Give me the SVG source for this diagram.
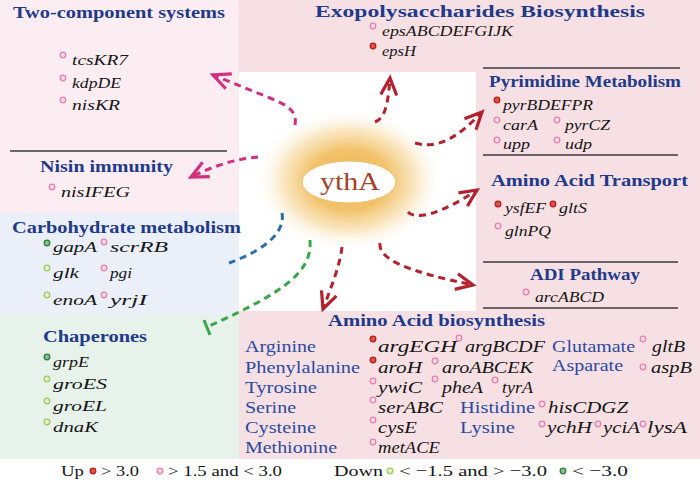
<svg xmlns="http://www.w3.org/2000/svg" width="700" height="483" viewBox="0 0 700 483" font-family="Liberation Serif, Times New Roman, serif">
<defs>
<style>
.t{font-weight:bold;font-size:17px;fill:#1f3a8a}
.g{font-style:italic;font-size:15px;fill:#151515}
.g2{font-style:italic;font-size:16.5px;fill:#151515}
.n{font-size:16.5px;fill:#2b4a9e}
.lg{font-size:15.5px;fill:#151515}
.up{fill:#e45247;stroke:#b41f1a;stroke-width:1.3}
.pk{fill:#fbd6e5;stroke:#e283b0;stroke-width:1.3}
.lgn{fill:#e4f1cc;stroke:#9ccb62;stroke-width:1.3}
.dgn{fill:#86c28f;stroke:#2f7d3f;stroke-width:1.3}
.ln{stroke:#3a3a3a;stroke-width:1.5}
.c{fill:none;stroke-width:3;stroke-dasharray:7 5}
.mg{stroke:#d42f7f}
.rd{stroke:#b3202e}
</style>
<radialGradient id="glow" cx="0.5" cy="0.5" r="0.5">
<stop offset="0" stop-color="#efb452"/>
<stop offset="0.42" stop-color="#f2c26a"/>
<stop offset="0.68" stop-color="#f7dca6" stop-opacity="0.75"/>
<stop offset="1" stop-color="#ffffff" stop-opacity="0"/>
</radialGradient>
<marker id="am" markerWidth="24" markerHeight="24" refX="0" refY="0" viewBox="-19 -12 22 24" orient="auto" markerUnits="userSpaceOnUse">
<path d="M-17,-8 L0,0 L-17,8" fill="none" stroke="#d42f7f" stroke-width="3.2"/>
</marker>
<marker id="ar" markerWidth="24" markerHeight="24" refX="0" refY="0" viewBox="-19 -12 22 24" orient="auto" markerUnits="userSpaceOnUse">
<path d="M-17,-8 L0,0 L-17,8" fill="none" stroke="#b3202e" stroke-width="3.2"/>
</marker>
</defs>

<g id="backgrounds">
<rect x="0" y="0" width="700" height="483" fill="#ffffff"/>
<rect x="0" y="0" width="239" height="213" fill="#fcedf3"/>
<rect x="239" y="0" width="461" height="72" fill="#f7e0e4"/>
<rect x="476" y="72" width="224" height="239" fill="#f7e0e4"/>
<rect x="239" y="311" width="461" height="148" fill="#f7e0e4"/>
<rect x="0" y="213" width="239" height="102" fill="#eaeff8"/>
<rect x="0" y="315" width="239" height="144" fill="#e6f2ea"/>
</g>

<g id="two-component">
<text class="t" x="13" y="18" textLength="212" lengthAdjust="spacingAndGlyphs">Two-component systems</text>
<circle class="pk" cx="63" cy="55" r="2.8"/><text class="g" x="72" y="65" textLength="56" lengthAdjust="spacingAndGlyphs">tcsKR7</text>
<circle class="pk" cx="63" cy="78" r="2.8"/><text class="g" x="72" y="88" textLength="49" lengthAdjust="spacingAndGlyphs">kdpDE</text>
<circle class="pk" cx="63" cy="100" r="2.8"/><text class="g" x="72" y="110" textLength="48" lengthAdjust="spacingAndGlyphs">nisKR</text>
<line class="ln" x1="10" y1="151" x2="227" y2="151"/>
</g>

<g id="nisin">
<text class="t" x="40" y="172" textLength="133" lengthAdjust="spacingAndGlyphs">Nisin immunity</text>
<circle class="pk" cx="52" cy="187" r="2.8"/><text class="g" x="61" y="197" textLength="69" lengthAdjust="spacingAndGlyphs">nisIFEG</text>
</g>

<g id="carbohydrate">
<text class="t" x="12" y="233" textLength="229" lengthAdjust="spacingAndGlyphs">Carbohydrate metabolism</text>
<circle class="dgn" cx="47" cy="243" r="2.8"/><text class="g" x="53" y="252" textLength="44" lengthAdjust="spacingAndGlyphs">gapA</text>
<circle class="pk" cx="104" cy="242" r="2.8"/><text class="g" x="110" y="252" textLength="58" lengthAdjust="spacingAndGlyphs">scrRB</text>
<circle class="lgn" cx="47" cy="268" r="2.8"/><text class="g" x="53" y="278" textLength="26" lengthAdjust="spacingAndGlyphs">glk</text>
<circle class="pk" cx="104" cy="268" r="2.8"/><text class="g" x="110" y="278" textLength="22" lengthAdjust="spacingAndGlyphs">pgi</text>
<circle class="lgn" cx="47" cy="295" r="2.8"/><text class="g" x="53" y="305" textLength="44" lengthAdjust="spacingAndGlyphs">enoA</text>
<circle class="pk" cx="104" cy="295" r="2.8"/><text class="g" x="110" y="305" textLength="37" lengthAdjust="spacingAndGlyphs">yrjI</text>
</g>

<g id="chaperones">
<text class="t" x="43" y="342" textLength="104" lengthAdjust="spacingAndGlyphs">Chaperones</text>
<circle class="dgn" cx="47" cy="357" r="2.8"/><text class="g" x="53" y="367" textLength="36" lengthAdjust="spacingAndGlyphs">grpE</text>
<circle class="lgn" cx="47" cy="379" r="2.8"/><text class="g" x="53" y="389" textLength="54" lengthAdjust="spacingAndGlyphs">groES</text>
<circle class="lgn" cx="47" cy="401" r="2.8"/><text class="g" x="53" y="411" textLength="54" lengthAdjust="spacingAndGlyphs">groEL</text>
<circle class="lgn" cx="47" cy="422" r="2.8"/><text class="g" x="53" y="432" textLength="45" lengthAdjust="spacingAndGlyphs">dnaK</text>
</g>

<g id="exopolysaccharides">
<text class="t" x="315" y="17" textLength="330" lengthAdjust="spacingAndGlyphs">Exopolysaccharides Biosynthesis</text>
<circle class="pk" cx="373" cy="26" r="2.8"/><text class="g" x="382" y="36" textLength="131" lengthAdjust="spacingAndGlyphs">epsABCDEFGIJK</text>
<circle class="up" cx="373" cy="46" r="2.8"/><text class="g" x="382" y="56" textLength="34" lengthAdjust="spacingAndGlyphs">epsH</text>
</g>

<g id="pyrimidine">
<line class="ln" x1="483" y1="68" x2="680" y2="68"/>
<text class="t" x="489" y="87" textLength="192" lengthAdjust="spacingAndGlyphs">Pyrimidine Metabolism</text>
<circle class="up" cx="497" cy="100" r="2.8"/><text class="g" x="503" y="110" textLength="90" lengthAdjust="spacingAndGlyphs">pyrBDEFPR</text>
<circle class="pk" cx="497" cy="120" r="2.8"/><text class="g" x="503" y="130" textLength="35" lengthAdjust="spacingAndGlyphs">carA</text>
<circle class="pk" cx="557" cy="120" r="2.8"/><text class="g" x="565" y="130" textLength="45" lengthAdjust="spacingAndGlyphs">pyrCZ</text>
<circle class="pk" cx="497" cy="140" r="2.8"/><text class="g" x="503" y="149" textLength="27" lengthAdjust="spacingAndGlyphs">upp</text>
<circle class="pk" cx="557" cy="140" r="2.8"/><text class="g" x="565" y="149" textLength="27" lengthAdjust="spacingAndGlyphs">udp</text>
<line class="ln" x1="483" y1="155" x2="678" y2="155"/>
</g>

<g id="amino-transport">
<text class="t" x="491" y="186" textLength="197" lengthAdjust="spacingAndGlyphs">Amino Acid Transport</text>
<circle class="up" cx="498" cy="204" r="2.8"/><text class="g" x="505" y="213" textLength="41" lengthAdjust="spacingAndGlyphs">ysfEF</text>
<circle class="up" cx="553" cy="204" r="2.8"/><text class="g" x="559" y="213" textLength="28" lengthAdjust="spacingAndGlyphs">gltS</text>
<circle class="pk" cx="498" cy="226" r="2.8"/><text class="g" x="505" y="236" textLength="46" lengthAdjust="spacingAndGlyphs">glnPQ</text>
<line class="ln" x1="483" y1="262" x2="678" y2="262"/>
</g>

<g id="adi">
<text class="t" x="530" y="280" textLength="110" lengthAdjust="spacingAndGlyphs">ADI Pathway</text>
<circle class="pk" cx="526" cy="292" r="2.8"/><text class="g" x="535" y="302" textLength="69" lengthAdjust="spacingAndGlyphs">arcABCD</text>
<line class="ln" x1="483" y1="308" x2="678" y2="308"/>
</g>

<g id="amino-biosynthesis">
<text class="t" x="328" y="326" textLength="217" lengthAdjust="spacingAndGlyphs">Amino Acid biosynthesis</text>
<text class="n" x="245" y="352" textLength="71" lengthAdjust="spacingAndGlyphs">Arginine</text>
<text class="n" x="245" y="373" textLength="115" lengthAdjust="spacingAndGlyphs">Phenylalanine</text>
<text class="n" x="245" y="393" textLength="72" lengthAdjust="spacingAndGlyphs">Tyrosine</text>
<text class="n" x="245" y="413" textLength="51" lengthAdjust="spacingAndGlyphs">Serine</text>
<text class="n" x="245" y="433" textLength="71" lengthAdjust="spacingAndGlyphs">Cysteine</text>
<text class="n" x="245" y="453" textLength="92" lengthAdjust="spacingAndGlyphs">Methionine</text>
<text class="n" x="552" y="352" textLength="83" lengthAdjust="spacingAndGlyphs">Glutamate</text>
<text class="n" x="552" y="371" textLength="71" lengthAdjust="spacingAndGlyphs">Asparate</text>
<text class="n" x="460" y="413" textLength="75" lengthAdjust="spacingAndGlyphs">Histidine</text>
<text class="n" x="460" y="433" textLength="55" lengthAdjust="spacingAndGlyphs">Lysine</text>

<circle class="up" cx="373" cy="339" r="2.8"/><text class="g2" x="378" y="352" textLength="79" lengthAdjust="spacingAndGlyphs">argEGH</text>
<circle class="pk" cx="459" cy="338" r="2.8"/><text class="g2" x="465" y="352" textLength="80" lengthAdjust="spacingAndGlyphs">argBCDF</text>
<circle class="pk" cx="643" cy="339" r="2.8"/><text class="g2" x="652" y="352" textLength="33" lengthAdjust="spacingAndGlyphs">gltB</text>
<circle class="up" cx="373" cy="360" r="2.8"/><text class="g2" x="378" y="373" textLength="44" lengthAdjust="spacingAndGlyphs">aroH</text>
<circle class="pk" cx="435" cy="361" r="2.8"/><text class="g2" x="442" y="373" textLength="91" lengthAdjust="spacingAndGlyphs">aroABCEK</text>
<circle class="pk" cx="643" cy="367" r="2.8"/><text class="g2" x="651" y="373" textLength="41" lengthAdjust="spacingAndGlyphs">aspB</text>
<circle class="pk" cx="373" cy="381" r="2.8"/><text class="g2" x="378" y="393" textLength="44" lengthAdjust="spacingAndGlyphs">ywiC</text>
<circle class="pk" cx="435" cy="379" r="2.8"/><text class="g2" x="442" y="393" textLength="41" lengthAdjust="spacingAndGlyphs">pheA</text>
<circle class="pk" cx="495" cy="380" r="2.8"/><text class="g2" x="502" y="393" textLength="31" lengthAdjust="spacingAndGlyphs">tyrA</text>
<circle class="pk" cx="373" cy="400" r="2.8"/><text class="g2" x="378" y="413" textLength="65" lengthAdjust="spacingAndGlyphs">serABC</text>
<circle class="pk" cx="542" cy="404" r="2.8"/><text class="g2" x="548" y="413" textLength="80" lengthAdjust="spacingAndGlyphs">hisCDGZ</text>
<circle class="pk" cx="373" cy="420" r="2.8"/><text class="g2" x="378" y="433" textLength="39" lengthAdjust="spacingAndGlyphs">cysE</text>
<circle class="pk" cx="542" cy="424" r="2.8"/><text class="g2" x="547" y="433" textLength="45" lengthAdjust="spacingAndGlyphs">ychH</text>
<circle class="pk" cx="598" cy="424" r="2.8"/><text class="g2" x="603" y="433" textLength="37" lengthAdjust="spacingAndGlyphs">yciA</text>
<circle class="pk" cx="643" cy="424" r="2.8"/><text class="g2" x="647" y="433" textLength="40" lengthAdjust="spacingAndGlyphs">lysA</text>
<circle class="pk" cx="373" cy="442" r="2.8"/><text class="g2" x="378" y="453" textLength="62" lengthAdjust="spacingAndGlyphs">metACE</text>
</g>

<g id="ythA">
<ellipse cx="349" cy="180" rx="95" ry="72" fill="url(#glow)"/>
<ellipse cx="349" cy="182" rx="47" ry="21" fill="#ffffff" stroke="#f0c070" stroke-width="1"/>
<text x="350" y="190" text-anchor="middle" font-size="25" fill="#a3432a" textLength="60" lengthAdjust="spacingAndGlyphs">ythA</text>
</g>

<g id="connectors">
<path class="c mg" d="M295,125 C297,112 290,106 270,98 L213,75" marker-end="url(#am)"/>
<path class="c mg" d="M258,157 Q225,160 191,177" marker-end="url(#am)"/>
<path class="c rd" d="M375,122 C385,118 388,105 390,78" marker-end="url(#ar)"/>
<path class="c rd" d="M415,143 C440,150 460,135 482,112" marker-end="url(#ar)"/>
<path class="c rd" d="M408,212 C415,220 440,215 477,190" marker-end="url(#ar)"/>
<path class="c rd" d="M380,243 C378,260 410,272 473,285" marker-end="url(#ar)"/>
<path class="c rd" d="M342,247 C340,265 332,285 323,309" marker-end="url(#ar)"/>
<path class="c" stroke="#2d6fad" d="M282,213 C285,230 270,248 229,263"/>
<path class="c" stroke="#3aa648" d="M310,240 C312,270 290,290 207,327"/>
<line x1="204" y1="320" x2="210" y2="335" stroke="#3aa648" stroke-width="3"/>
</g>

<g id="legend">
<text class="lg" x="61" y="476" textLength="23" lengthAdjust="spacingAndGlyphs">Up</text>
<circle class="up" cx="93" cy="471" r="2.8"/>
<text class="lg" x="101" y="476" textLength="38" lengthAdjust="spacingAndGlyphs">&gt; 3.0</text>
<circle class="pk" cx="160" cy="471" r="2.8"/>
<text class="lg" x="168" y="476" textLength="114" lengthAdjust="spacingAndGlyphs">&gt; 1.5 and &lt; 3.0</text>
<text class="lg" x="334" y="476" textLength="49" lengthAdjust="spacingAndGlyphs">Down</text>
<circle class="lgn" cx="390" cy="471" r="2.8"/>
<text class="lg" x="399" y="476" textLength="148" lengthAdjust="spacingAndGlyphs">&lt; −1.5 and &gt; −3.0</text>
<circle class="dgn" cx="563" cy="471" r="2.8"/>
<text class="lg" x="572" y="476" textLength="56" lengthAdjust="spacingAndGlyphs">&lt; −3.0</text>
</g>
</svg>
